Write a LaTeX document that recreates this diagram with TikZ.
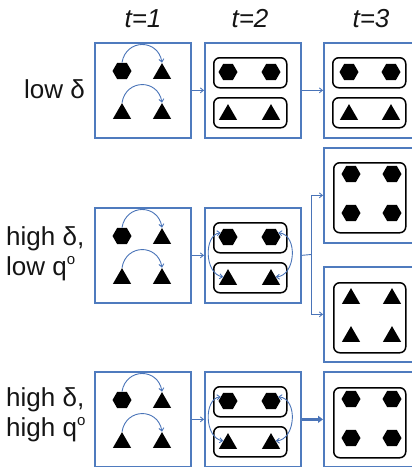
\documentclass[tikz,border=0pt]{standalone}
\usepackage{fontspec}
\setmainfont{Liberation Sans}
\usetikzlibrary{arrows.meta,shapes.geometric}
\definecolor{frameblue}{HTML}{4F7BBE}
\definecolor{linkblue}{HTML}{4A74B8}
\definecolor{ink}{HTML}{141414}
\newcommand{\ringsup}{\raisebox{10.5pt}{\fontsize{15}{15}\selectfont o}}
\tikzset{
  stagebox/.style={draw=frameblue, line width=1.7pt, minimum width=96pt,
    minimum height=95pt, inner sep=0pt, anchor=north west},
  groupbox/.style={draw=black, line width=1.5pt, rounded corners=6pt,
    inner sep=0pt, anchor=north west},
  pairbox/.style={groupbox, minimum width=73pt, minimum height=30pt},
  quadbox/.style={groupbox, minimum width=72pt, minimum height=70pt},
  hexa/.style={regular polygon, regular polygon sides=6, fill=black,
    minimum size=19pt, inner sep=0pt},
  tri/.style={regular polygon, regular polygon sides=3, fill=black,
    minimum size=21pt, inner sep=0pt, yshift=-2.6pt},
  hop/.style={draw=linkblue, line width=0.9pt,
    -{Straight Barb[length=3pt,width=5pt]}},
  swap/.style={draw=linkblue, line width=0.9pt,
    {Straight Barb[length=3pt,width=5pt]}-{Straight Barb[length=3pt,width=5pt]}},
  flow/.style={draw=linkblue, line width=0.9pt,
    -{Straight Barb[length=3pt,width=5pt]}},
  bigflow/.style={draw=linkblue, line width=2.4pt,
    -{Triangle[length=5pt,width=7pt]}},
  rowtag/.style={font=\fontsize{26}{30}\selectfont, text=ink, inner sep=0pt},
  timetag/.style={font=\fontsize{26}{30}\selectfont\itshape, text=ink, inner sep=0pt},
}
\begin{document}
\begin{tikzpicture}[x=1pt, y=-1pt]
\useasboundingbox (0,0) rectangle (412,467);
\clip (0,0) rectangle (412,467);

% time headers
\node[timetag, anchor=base] (h1) at (143,27) {t=1};
\node[timetag, anchor=base] (h2) at (250,27) {t=2};
\node[timetag, anchor=base] (h3) at (371,27) {t=3};

% row labels
\node[rowtag, anchor=base east] (la) at (85,98) {low δ};
\node[rowtag, anchor=base west] (lb1) at (6,245) {high δ,};
\node[rowtag, anchor=base west] (lb2) at (6,275) {low q\ringsup};
\node[rowtag, anchor=base west] (lc1) at (6,406) {high δ,};
\node[rowtag, anchor=base west] (lc2) at (6,436) {high q\ringsup};

% t=1 and t=2 stages, identical in every row
\foreach \r/\T in {a/42, b/207, c/371}{
  % t=1: four agents, each hexagon/triangle pair linked by an arc
  \node[stagebox] (\r1) at (94,\T) {};
  \node[hexa] (\r1p) at (122,\T+29) {};
  \node[tri]  (\r1q) at (162,\T+29) {};
  \node[tri]  (\r1s) at (122,\T+69) {};
  \node[tri]  (\r1t) at (162,\T+69) {};
  \draw[hop] (\r1p.north) .. controls +(4,-24) and +(-4,-24) .. (\r1q.north);
  \draw[hop] (\r1s.north) .. controls +(4,-24) and +(-4,-24) .. (\r1t.north);
  % t=2: two groups
  \node[stagebox] (\r2) at (204,\T) {};
  \node[pairbox] (\r2u) at (213,\T+15) {};
  \node[pairbox] (\r2d) at (213,\T+55) {};
  \node[hexa] (\r2p) at (228,\T+30) {};
  \node[hexa] (\r2q) at (271,\T+30) {};
  \node[tri]  (\r2s) at (228,\T+70) {};
  \node[tri]  (\r2t) at (271,\T+70) {};
  \draw[flow] (\r1.east) -- (\r2.west);
}

% exchanges between the two groups at t=2
\foreach \r in {b,c}{
  \draw[swap] (\r2p.150) .. controls +(-17,2) and +(-19,-3) .. (\r2s.150);
  \draw[swap] (\r2q.30) .. controls +(20,2) and +(20,-1) .. (\r2t.30);
}

% t=3, low delta: the two groups persist
\node[stagebox] (a3) at (323,42) {};
\node[pairbox] (a3u) at (332,57) {};
\node[pairbox] (a3d) at (332,97) {};
\node[hexa] (a3p) at (349,72) {};
\node[hexa] (a3q) at (391,72) {};
\node[tri]  (a3s) at (349,112) {};
\node[tri]  (a3t) at (391,112) {};
\draw[flow] (a2.east) -- (a3.west);

% t=3, high delta with low q: one of two uniform outcomes
\node[stagebox] (b3) at (323,147) {};
\node[quadbox] (b3g) at (333,162) {};
\node[hexa] (b3p) at (351,174) {};
\node[hexa] (b3q) at (392,174) {};
\node[hexa] (b3s) at (351,213) {};
\node[hexa] (b3t) at (392,213) {};

\node[stagebox] (b4) at (323,266) {};
\node[quadbox] (b4g) at (333,282) {};
\node[tri] (b4p) at (351,296) {};
\node[tri] (b4q) at (392,296) {};
\node[tri] (b4s) at (351,334) {};
\node[tri] (b4t) at (392,334) {};

\coordinate (fork) at (311,254.5);
\draw[draw=linkblue, line width=0.9pt] (b2.east) -- (fork);
\draw[flow] (fork) |- (b3.west);
\draw[flow] (fork) |- (b4.west);

% t=3, high delta with high q: all hexagons
\node[stagebox] (c3) at (323,371) {};
\node[quadbox] (c3g) at (333,387) {};
\node[hexa] (c3p) at (351,399) {};
\node[hexa] (c3q) at (392,399) {};
\node[hexa] (c3s) at (351,438) {};
\node[hexa] (c3t) at (392,438) {};
\draw[bigflow] (c2.east) -- (c3.west);
\end{tikzpicture}
\end{document}
